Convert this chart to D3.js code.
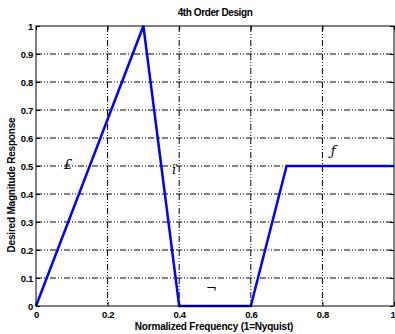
<!DOCTYPE html>
<html>
<head>
<meta charset="utf-8">
<script src="https://cdn.jsdelivr.net/npm/d3@7"></script>
<style>
  body { margin: 0; background: #fff; }
  svg { display: block; font-family: Arial, "Liberation Sans", sans-serif; }
  .grid line { stroke: #000; stroke-width: 1; stroke-dasharray: 6,2,1,2,1,2; }
</style>
</head>
<body>
<svg width="395" height="334"></svg>
<script>
// desired response, segment by segment
const freqs = [0, 0.3, 0.4, 0.6, 0.7, 1];
const mags = [0, 1, 0, 0, 0.5, 0.5];
const xTicks = [0, 0.2, 0.4, 0.6, 0.8, 1];
const yTicks = [0, 0.1, 0.2, 0.3, 0.4, 0.5, 0.6, 0.7, 0.8, 0.9, 1];
const marks = [
  { f: 0.09, m: 0.49, t: "\u00a3" },
  { f: 0.385, m: 0.47, t: "\u00ef" },
  { f: 0.49, m: 0.045, t: "\u00ac" },
  { f: 0.83, m: 0.54, t: "\u0192" }
];

const svg = d3.select("svg");
const mLeft = 36, mRight = 394, mTop = 26, mBottom = 306;

const x = d3.scaleLinear().domain([0, 1]).range([mLeft, mRight]);
const y = d3.scaleLinear().domain([0, 1]).range([mBottom, mTop]);

// grid
const grid = svg.append("g").attr("class", "grid");
grid.selectAll(".gx").data(xTicks.slice(1, -1)).join("line")
  .attr("class", "gx")
  .attr("x1", d => x(d)).attr("x2", d => x(d))
  .attr("y1", mTop).attr("y2", mBottom);
grid.selectAll(".gy").data(yTicks.slice(1, -1)).join("line")
  .attr("class", "gy")
  .attr("x1", mLeft).attr("x2", mRight)
  .attr("y1", d => y(d)).attr("y2", d => y(d));

// the line
const pts = freqs.map((f, i) => [f, mags[i]]);
svg.append("path")
  .datum(pts)
  .attr("fill", "none")
  .attr("stroke", "#0000ff")
  .attr("stroke-width", 2.5)
  .attr("d", d3.line().x(d => x(d[0])).y(d => y(d[1])));

// box
svg.append("rect")
  .attr("x", mLeft).attr("y", mTop)
  .attr("width", mRight - mLeft).attr("height", mBottom - mTop)
  .attr("fill", "none").attr("stroke", "#000").attr("stroke-width", 1);

const fmt = d => d === 0 || d === 1 ? d3.format("d")(d) : d3.format(".1f")(d);

// axes, ticks inward
const xAxis = svg.append("g").attr("transform", `translate(0,${mBottom})`)
  .call(d3.axisBottom(x).tickValues(xTicks).tickSize(-4).tickPadding(7).tickFormat(fmt));
const xAxisTop = svg.append("g").attr("transform", `translate(0,${mTop})`)
  .call(d3.axisTop(x).tickValues(xTicks).tickSize(-4).tickFormat(""));
const yAxis = svg.append("g").attr("transform", `translate(${mLeft},0)`)
  .call(d3.axisLeft(y).tickValues(yTicks).tickSize(-4).tickPadding(3).tickFormat(fmt));
const yAxisRight = svg.append("g").attr("transform", `translate(${mRight},0)`)
  .call(d3.axisRight(y).tickValues(yTicks).tickSize(-4).tickFormat(""));

[xAxis, xAxisTop, yAxis, yAxisRight].forEach(a => {
  a.select(".domain").remove();
  a.selectAll("text").attr("font-size", 9.5).attr("font-weight", "bold")
    .attr("font-family", "Arial, sans-serif").attr("fill", "#000")
    .attr("letter-spacing", -0.3);
});
xAxis.selectAll("text").attr("dy", "0.5em");
// last x label sits on the window edge
xAxis.selectAll("text").filter(d => d === 1).attr("text-anchor", "end").attr("dx", 1);

// weight labels
svg.append("g").selectAll("text").data(marks).join("text")
  .attr("x", d => x(d.f)).attr("y", d => y(d.m))
  .attr("text-anchor", "middle")
  .attr("font-size", 13)
  .attr("font-family", "DejaVu Serif, serif")
  .attr("font-style", "italic")
  .text(d => d.t);

// titles
svg.append("text").attr("x", (mLeft + mRight) / 2).attr("y", 16)
  .attr("text-anchor", "middle").attr("font-size", 10).attr("font-weight", "bold")
  .attr("letter-spacing", -0.4)
  .text("4th Order Design");
svg.append("text").attr("x", 214).attr("y", 330)
  .attr("text-anchor", "middle").attr("font-size", 10).attr("font-weight", "bold")
  .attr("letter-spacing", -0.2)
  .text("Normalized Frequency (1=Nyquist)");
svg.append("text")
  .attr("transform", `translate(15,185) rotate(-90)`)
  .attr("text-anchor", "middle").attr("font-size", 10).attr("font-weight", "bold")
  .attr("letter-spacing", -0.2)
  .text("Desired Magnitude Response");
</script>
</body>
</html>
